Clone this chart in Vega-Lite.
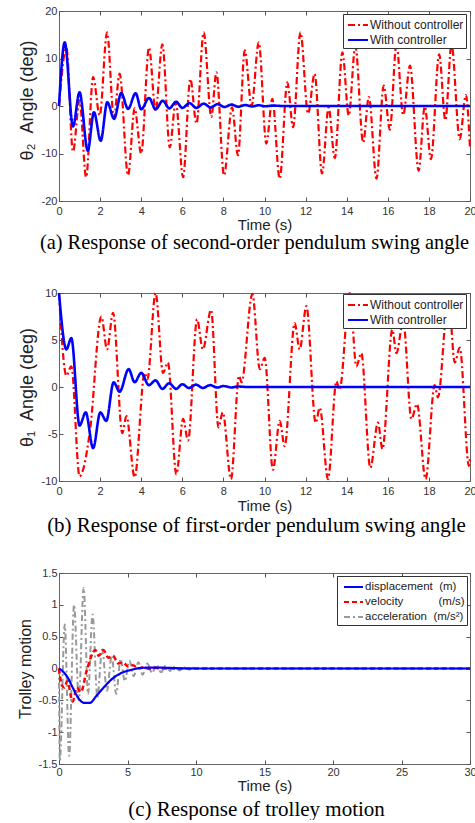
{
  "$schema": "https://vega.github.io/schema/vega-lite/v6.json",
  "background": "white",
  "padding": {"top": 4, "left": 16, "right": 0, "bottom": 0},
  "bounds": "flush",
  "spacing": 92,
  "resolve": {"scale": {"color": "independent", "strokeDash": "independent"}, "legend": {"color": "independent", "strokeDash": "independent"}},
  "config": {
    "view": {"stroke": "#666", "strokeWidth": 1},
    "axis": {"grid": false, "domain": false, "labelFont": "Liberation Sans", "titleFont": "Liberation Sans", "labelFontSize": 11, "labelColor": "#333", "titleColor": "#222", "titleFontWeight": "normal", "tickColor": "#555", "labelFlush": false, "labelOverlap": false},
    "legend": {"labelFont": "Liberation Sans", "labelColor": "#222"},
    "title": {"font": "Liberation Serif", "fontSize": 21, "fontWeight": "normal", "color": "#000"}
  },
  "vconcat": [
    {
      "width": 411, "height": 190,
      "title": {"text": "(a) Response of second-order pendulum swing angle", "orient": "bottom", "anchor": "middle", "frame": "group", "dx": -10, "offset": 1, "fontSize": 20.4},
      "data": {"values": [
        {"t":0,"v":0,"s":"Without controller"},{"t":0.36,"v":12.3,"s":"Without controller"},{"t":0.68,"v":-9.6,"s":"Without controller"},{"t":1.0,"v":1.2,"s":"Without controller"},{"t":1.32,"v":-15,"s":"Without controller"},{"t":1.66,"v":6.1,"s":"Without controller"},{"t":1.98,"v":-2,"s":"Without controller"},{"t":2.34,"v":15.5,"s":"Without controller"},{"t":2.67,"v":-2.5,"s":"Without controller"},{"t":2.95,"v":6.8,"s":"Without controller"},{"t":3.36,"v":-14.6,"s":"Without controller"},{"t":3.68,"v":-0.5,"s":"Without controller"},{"t":4.0,"v":-10,"s":"Without controller"},{"t":4.38,"v":12.3,"s":"Without controller"},{"t":4.7,"v":-1,"s":"Without controller"},{"t":5.03,"v":13,"s":"Without controller"},{"t":5.39,"v":-8.7,"s":"Without controller"},{"t":5.68,"v":0.8,"s":"Without controller"},{"t":6.04,"v":-15,"s":"Without controller"},{"t":6.39,"v":5.7,"s":"Without controller"},{"t":6.69,"v":-3.7,"s":"Without controller"},{"t":7.04,"v":15.5,"s":"Without controller"},{"t":7.41,"v":-2.3,"s":"Without controller"},{"t":7.66,"v":7.1,"s":"Without controller"},{"t":8.03,"v":-14.6,"s":"Without controller"},{"t":8.42,"v":-0.3,"s":"Without controller"},{"t":8.71,"v":-10.4,"s":"Without controller"},{"t":9.04,"v":11.7,"s":"Without controller"},{"t":9.37,"v":0,"s":"Without controller"},{"t":9.72,"v":13.4,"s":"Without controller"},{"t":10.09,"v":-7.9,"s":"Without controller"},{"t":10.38,"v":1.5,"s":"Without controller"},{"t":10.74,"v":-15.3,"s":"Without controller"},{"t":11.11,"v":5,"s":"Without controller"},{"t":11.39,"v":-4.5,"s":"Without controller"},{"t":11.75,"v":15.5,"s":"Without controller"},{"t":12.12,"v":-1.6,"s":"Without controller"},{"t":12.44,"v":6.8,"s":"Without controller"},{"t":12.8,"v":-14.2,"s":"Without controller"},{"t":13.12,"v":-0.3,"s":"Without controller"},{"t":13.42,"v":-11,"s":"Without controller"},{"t":13.79,"v":11.3,"s":"Without controller"},{"t":14.1,"v":-2,"s":"Without controller"},{"t":14.42,"v":12.6,"s":"Without controller"},{"t":14.8,"v":-7.7,"s":"Without controller"},{"t":15.08,"v":1.9,"s":"Without controller"},{"t":15.45,"v":-15.3,"s":"Without controller"},{"t":15.8,"v":4.3,"s":"Without controller"},{"t":16.1,"v":-5,"s":"Without controller"},{"t":16.42,"v":13,"s":"Without controller"},{"t":16.75,"v":-1.9,"s":"Without controller"},{"t":17.08,"v":8.5,"s":"Without controller"},{"t":17.5,"v":-13.6,"s":"Without controller"},{"t":17.8,"v":-0.1,"s":"Without controller"},{"t":18.1,"v":-11.2,"s":"Without controller"},{"t":18.5,"v":10.9,"s":"Without controller"},{"t":18.8,"v":-3,"s":"Without controller"},{"t":19.1,"v":13,"s":"Without controller"},{"t":19.5,"v":-7,"s":"Without controller"},{"t":19.8,"v":2.3,"s":"Without controller"},{"t":20,"v":-9,"s":"Without controller"},
        {"t":0,"v":0,"s":"With controller"},{"t":0.28,"v":13.4,"s":"With controller"},{"t":0.68,"v":-4.3,"s":"With controller"},{"t":1.0,"v":2.9,"s":"With controller"},{"t":1.4,"v":-9.4,"s":"With controller"},{"t":1.7,"v":-1.3,"s":"With controller"},{"t":2.03,"v":-7.3,"s":"With controller"},{"t":2.35,"v":0.8,"s":"With controller"},{"t":2.68,"v":-2.7,"s":"With controller"},{"t":3.03,"v":2.7,"s":"With controller"},{"t":3.36,"v":-0.6,"s":"With controller"},{"t":3.73,"v":2.7,"s":"With controller"},{"t":4.0,"v":-0.7,"s":"With controller"},{"t":4.38,"v":1.7,"s":"With controller"},{"t":4.7,"v":-0.7,"s":"With controller"},{"t":5.05,"v":1.1,"s":"With controller"},{"t":5.37,"v":-0.5,"s":"With controller"},{"t":5.7,"v":0.9,"s":"With controller"},{"t":6.0,"v":-0.4,"s":"With controller"},{"t":6.35,"v":0.6,"s":"With controller"},{"t":6.69,"v":-0.4,"s":"With controller"},{"t":7.04,"v":0.5,"s":"With controller"},{"t":7.38,"v":-0.3,"s":"With controller"},{"t":7.72,"v":0.4,"s":"With controller"},{"t":8.05,"v":-0.2,"s":"With controller"},{"t":8.4,"v":0.3,"s":"With controller"},{"t":8.72,"v":-0.15,"s":"With controller"},{"t":9.05,"v":0.2,"s":"With controller"},{"t":9.4,"v":-0.1,"s":"With controller"},{"t":9.72,"v":0.15,"s":"With controller"},{"t":10.05,"v":-0.05,"s":"With controller"},{"t":10.4,"v":0.08,"s":"With controller"},{"t":11,"v":0,"s":"With controller"},{"t":20,"v":0,"s":"With controller"}
      ]},
      "resolve": {"axis": {"x": "independent", "y": "independent"}},
      "layer": [
        {
          "transform": [{"filter": "datum.s == 'Without controller'"}],
          "mark": {"type": "line", "interpolate": "monotone", "strokeWidth": 2.2},
          "encoding": {
            "x": {"field": "t", "type": "quantitative", "scale": {"domain": [0, 20], "nice": false, "zero": false}, "axis": {"orient": "bottom", "values": [0,2,4,6,8,10,12,14,16,18,20], "title": "Time (s)", "titleFontSize": 15, "titlePadding": 1, "labelPadding": 8, "tickSize": -4}},
            "y": {"field": "v", "type": "quantitative", "scale": {"domain": [-20, 20], "nice": false, "zero": false}, "axis": {"orient": "left", "values": [-20,-10,0,10,20], "title": "θ₂\u00a0\u00a0Angle (deg)", "titleFontSize": 18, "titlePadding": 5, "titleY": 89, "labelPadding": 6, "tickSize": -4, "labelExpr": "datum.value < 0 ? '-' + format(-datum.value, '') : format(datum.value, '')"}},
            "color": {"field": "s", "type": "nominal", "scale": {"domain": ["Without controller", "With controller"], "range": ["#ff0000", "#0000ff"]}, "legend": {"orient": "none", "legendX": 284, "legendY": 3, "title": null, "padding": 2, "fillColor": "white", "strokeColor": "#333", "symbolType": "M-0.75,0H1.75", "symbolSize": 256, "symbolStrokeWidth": 2, "labelFontSize": 12, "labelOffset": 7, "rowPadding": -1}},
            "strokeDash": {"field": "s", "type": "nominal", "scale": {"domain": ["Without controller", "With controller"], "range": [[7,3,2,3],[1,0]]}, "legend": {"orient": "none", "legendX": 284, "legendY": 3, "title": null, "padding": 2, "fillColor": "white", "strokeColor": "#333", "symbolType": "M-0.75,0H1.75", "symbolSize": 256, "symbolStrokeWidth": 2, "labelFontSize": 12, "labelOffset": 7, "rowPadding": -1}}
          }
        },
        {
          "transform": [{"filter": "datum.s == 'With controller'"}],
          "mark": {"type": "line", "interpolate": "monotone", "strokeWidth": 2.6},
          "encoding": {
            "x": {"field": "t", "type": "quantitative", "axis": {"orient": "top", "values": [0,2,4,6,8,10,12,14,16,18,20], "labels": false, "title": null, "tickSize": -4}},
            "y": {"field": "v", "type": "quantitative", "axis": {"orient": "right", "values": [-20,-10,0,10,20], "labels": false, "title": null, "tickSize": -4}},
            "color": {"field": "s", "type": "nominal"},
            "strokeDash": {"field": "s", "type": "nominal"}
          }
        }
      ]
    },
    {
      "width": 411, "height": 188,
      "title": {"text": "(b) Response of first-order pendulum swing angle", "orient": "bottom", "anchor": "middle", "frame": "group", "dx": -8, "offset": 2},
      "data": {"values": [
        {"t":0,"v":10,"s":"Without controller"},{"t":0.36,"v":1.2,"s":"Without controller"},{"t":0.6,"v":2.2,"s":"Without controller"},{"t":1.0,"v":-9.5,"s":"Without controller"},{"t":1.5,"v":-4.8,"s":"Without controller"},{"t":2.06,"v":7.5,"s":"Without controller"},{"t":2.34,"v":4,"s":"Without controller"},{"t":2.63,"v":7.9,"s":"Without controller"},{"t":3.08,"v":-4.9,"s":"Without controller"},{"t":3.28,"v":-3.1,"s":"Without controller"},{"t":3.68,"v":-9.6,"s":"Without controller"},{"t":4.17,"v":1.5,"s":"Without controller"},{"t":4.3,"v":0.8,"s":"Without controller"},{"t":4.7,"v":10,"s":"Without controller"},{"t":5.06,"v":1.5,"s":"Without controller"},{"t":5.3,"v":2.6,"s":"Without controller"},{"t":5.71,"v":-9.3,"s":"Without controller"},{"t":6.04,"v":-3.4,"s":"Without controller"},{"t":6.28,"v":-5.7,"s":"Without controller"},{"t":6.72,"v":7.2,"s":"Without controller"},{"t":7.0,"v":4,"s":"Without controller"},{"t":7.4,"v":8.2,"s":"Without controller"},{"t":7.76,"v":-4.3,"s":"Without controller"},{"t":7.97,"v":-2.7,"s":"Without controller"},{"t":8.37,"v":-9.8,"s":"Without controller"},{"t":8.76,"v":1.2,"s":"Without controller"},{"t":8.88,"v":0.5,"s":"Without controller"},{"t":9.41,"v":9.9,"s":"Without controller"},{"t":9.77,"v":1.9,"s":"Without controller"},{"t":10.01,"v":3.1,"s":"Without controller"},{"t":10.41,"v":-8.8,"s":"Without controller"},{"t":10.74,"v":-3.6,"s":"Without controller"},{"t":10.98,"v":-6.3,"s":"Without controller"},{"t":11.47,"v":6.8,"s":"Without controller"},{"t":11.71,"v":4,"s":"Without controller"},{"t":12.04,"v":8.6,"s":"Without controller"},{"t":12.49,"v":-3.8,"s":"Without controller"},{"t":12.69,"v":-2.2,"s":"Without controller"},{"t":13.09,"v":-9.8,"s":"Without controller"},{"t":13.5,"v":0.6,"s":"Without controller"},{"t":13.65,"v":-0.3,"s":"Without controller"},{"t":14.15,"v":10,"s":"Without controller"},{"t":14.47,"v":2.2,"s":"Without controller"},{"t":14.71,"v":3.6,"s":"Without controller"},{"t":15.15,"v":-8.6,"s":"Without controller"},{"t":15.52,"v":-3.8,"s":"Without controller"},{"t":15.74,"v":-6.6,"s":"Without controller"},{"t":16.22,"v":6.1,"s":"Without controller"},{"t":16.42,"v":3.6,"s":"Without controller"},{"t":16.75,"v":7,"s":"Without controller"},{"t":17.15,"v":-3.4,"s":"Without controller"},{"t":17.42,"v":-1.8,"s":"Without controller"},{"t":17.84,"v":-9.8,"s":"Without controller"},{"t":18.28,"v":0.2,"s":"Without controller"},{"t":18.44,"v":-1.1,"s":"Without controller"},{"t":18.95,"v":9.6,"s":"Without controller"},{"t":19.26,"v":2.6,"s":"Without controller"},{"t":19.5,"v":4.2,"s":"Without controller"},{"t":19.95,"v":-8.4,"s":"Without controller"},{"t":20,"v":-7.5,"s":"Without controller"},
        {"t":0,"v":10,"s":"With controller"},{"t":0.36,"v":4,"s":"With controller"},{"t":0.6,"v":5.2,"s":"With controller"},{"t":1.0,"v":-4.1,"s":"With controller"},{"t":1.3,"v":-2.7,"s":"With controller"},{"t":1.66,"v":-6.5,"s":"With controller"},{"t":2.01,"v":-2.7,"s":"With controller"},{"t":2.3,"v":-3.6,"s":"With controller"},{"t":2.66,"v":0.5,"s":"With controller"},{"t":2.95,"v":-0.5,"s":"With controller"},{"t":3.39,"v":1.9,"s":"With controller"},{"t":3.68,"v":0.5,"s":"With controller"},{"t":4.0,"v":1.5,"s":"With controller"},{"t":4.37,"v":0.2,"s":"With controller"},{"t":4.7,"v":0.7,"s":"With controller"},{"t":5.03,"v":-0.2,"s":"With controller"},{"t":5.36,"v":0.4,"s":"With controller"},{"t":5.7,"v":-0.2,"s":"With controller"},{"t":6.0,"v":0.3,"s":"With controller"},{"t":6.32,"v":-0.1,"s":"With controller"},{"t":6.66,"v":0.25,"s":"With controller"},{"t":7.0,"v":-0.1,"s":"With controller"},{"t":7.35,"v":0.2,"s":"With controller"},{"t":7.7,"v":-0.05,"s":"With controller"},{"t":8.0,"v":0.1,"s":"With controller"},{"t":8.4,"v":-0.05,"s":"With controller"},{"t":8.7,"v":0.05,"s":"With controller"},{"t":9.2,"v":0,"s":"With controller"},{"t":20,"v":0,"s":"With controller"}
      ]},
      "resolve": {"axis": {"x": "independent", "y": "independent"}},
      "layer": [
        {
          "transform": [{"filter": "datum.s == 'Without controller'"}],
          "mark": {"type": "line", "interpolate": "monotone", "strokeWidth": 2.2},
          "encoding": {
            "x": {"field": "t", "type": "quantitative", "scale": {"domain": [0, 20], "nice": false, "zero": false}, "axis": {"orient": "bottom", "values": [0,2,4,6,8,10,12,14,16,18,20], "title": "Time (s)", "titleFontSize": 15, "titlePadding": 2, "labelPadding": 8, "tickSize": -4}},
            "y": {"field": "v", "type": "quantitative", "scale": {"domain": [-10, 10], "nice": false, "zero": false}, "axis": {"orient": "left", "values": [-10,-5,0,5,10], "title": "θ₁\u00a0\u00a0Angle (deg)", "titleFontSize": 18, "titlePadding": 5, "labelPadding": 6, "tickSize": -4, "labelExpr": "datum.value < 0 ? '-' + format(-datum.value, '') : format(datum.value, '')"}},
            "color": {"field": "s", "type": "nominal", "scale": {"domain": ["Without controller", "With controller"], "range": ["#ff0000", "#0000ff"]}, "legend": {"orient": "none", "legendX": 284, "legendY": 1, "title": null, "padding": 2, "fillColor": "white", "strokeColor": "#333", "symbolType": "M-0.75,0H1.75", "symbolSize": 256, "symbolStrokeWidth": 2, "labelFontSize": 12, "labelOffset": 7, "rowPadding": -1}},
            "strokeDash": {"field": "s", "type": "nominal", "scale": {"domain": ["Without controller", "With controller"], "range": [[7,3,2,3],[1,0]]}, "legend": {"orient": "none", "legendX": 284, "legendY": 1, "title": null, "padding": 2, "fillColor": "white", "strokeColor": "#333", "symbolType": "M-0.75,0H1.75", "symbolSize": 256, "symbolStrokeWidth": 2, "labelFontSize": 12, "labelOffset": 7, "rowPadding": -1}}
          }
        },
        {
          "transform": [{"filter": "datum.s == 'With controller'"}],
          "mark": {"type": "line", "interpolate": "monotone", "strokeWidth": 2.6},
          "encoding": {
            "x": {"field": "t", "type": "quantitative", "axis": {"orient": "top", "values": [0,2,4,6,8,10,12,14,16,18,20], "labels": false, "title": null, "tickSize": -4}},
            "y": {"field": "v", "type": "quantitative", "axis": {"orient": "right", "values": [-10,-5,0,5,10], "labels": false, "title": null, "tickSize": -4}},
            "color": {"field": "s", "type": "nominal"},
            "strokeDash": {"field": "s", "type": "nominal"}
          }
        }
      ]
    },
    {
      "width": 411, "height": 191,
      "title": {"text": "(c) Response of trolley motion", "orient": "bottom", "anchor": "middle", "frame": "group", "dx": -8, "offset": 5},
      "data": {"values": [
        {"t":0,"v":0,"s":"acceleration"},{"t":0.06,"v":-1.45,"s":"acceleration"},{"t":0.42,"v":0.69,"s":"acceleration"},{"t":0.74,"v":-1.37,"s":"acceleration"},{"t":1.1,"v":1.0,"s":"acceleration"},{"t":1.45,"v":-0.5,"s":"acceleration"},{"t":1.8,"v":1.27,"s":"acceleration"},{"t":2.12,"v":-0.4,"s":"acceleration"},{"t":2.45,"v":0.85,"s":"acceleration"},{"t":2.8,"v":-0.45,"s":"acceleration"},{"t":3.15,"v":0.3,"s":"acceleration"},{"t":3.5,"v":-0.35,"s":"acceleration"},{"t":3.85,"v":0.2,"s":"acceleration"},{"t":4.17,"v":-0.4,"s":"acceleration"},{"t":4.5,"v":0.15,"s":"acceleration"},{"t":4.8,"v":-0.2,"s":"acceleration"},{"t":5.15,"v":0.12,"s":"acceleration"},{"t":5.45,"v":-0.12,"s":"acceleration"},{"t":5.8,"v":0.1,"s":"acceleration"},{"t":6.1,"v":-0.1,"s":"acceleration"},{"t":6.45,"v":0.08,"s":"acceleration"},{"t":6.8,"v":-0.07,"s":"acceleration"},{"t":7.1,"v":0.06,"s":"acceleration"},{"t":7.45,"v":-0.06,"s":"acceleration"},{"t":7.8,"v":0.05,"s":"acceleration"},{"t":8.1,"v":-0.04,"s":"acceleration"},{"t":8.45,"v":0.03,"s":"acceleration"},{"t":8.8,"v":-0.03,"s":"acceleration"},{"t":9.1,"v":0.02,"s":"acceleration"},{"t":9.45,"v":-0.02,"s":"acceleration"},{"t":9.8,"v":0.01,"s":"acceleration"},{"t":10.5,"v":0,"s":"acceleration"},{"t":30,"v":0,"s":"acceleration"},
        {"t":0,"v":0,"s":"velocity"},{"t":0.22,"v":-0.27,"s":"velocity"},{"t":0.4,"v":-0.3,"s":"velocity"},{"t":0.6,"v":-0.2,"s":"velocity"},{"t":1.0,"v":-0.52,"s":"velocity"},{"t":1.3,"v":-0.3,"s":"velocity"},{"t":1.6,"v":-0.37,"s":"velocity"},{"t":2.0,"v":-0.05,"s":"velocity"},{"t":2.65,"v":0.29,"s":"velocity"},{"t":2.9,"v":0.2,"s":"velocity"},{"t":3.25,"v":0.29,"s":"velocity"},{"t":3.6,"v":0.17,"s":"velocity"},{"t":3.95,"v":0.2,"s":"velocity"},{"t":4.3,"v":0.08,"s":"velocity"},{"t":4.7,"v":0.09,"s":"velocity"},{"t":5.05,"v":0.03,"s":"velocity"},{"t":5.4,"v":0.05,"s":"velocity"},{"t":5.8,"v":0,"s":"velocity"},{"t":6.2,"v":0.02,"s":"velocity"},{"t":6.6,"v":-0.01,"s":"velocity"},{"t":7.0,"v":0.01,"s":"velocity"},{"t":7.5,"v":0,"s":"velocity"},{"t":30,"v":0,"s":"velocity"},
        {"t":0,"v":0,"s":"displacement"},{"t":0.3,"v":-0.05,"s":"displacement"},{"t":0.66,"v":-0.15,"s":"displacement"},{"t":1.0,"v":-0.3,"s":"displacement"},{"t":1.5,"v":-0.49,"s":"displacement"},{"t":1.85,"v":-0.54,"s":"displacement"},{"t":2.25,"v":-0.54,"s":"displacement"},{"t":2.73,"v":-0.43,"s":"displacement"},{"t":3.34,"v":-0.28,"s":"displacement"},{"t":3.95,"v":-0.15,"s":"displacement"},{"t":4.56,"v":-0.07,"s":"displacement"},{"t":5.3,"v":-0.02,"s":"displacement"},{"t":6.0,"v":0.01,"s":"displacement"},{"t":7.0,"v":0.015,"s":"displacement"},{"t":8.0,"v":0.01,"s":"displacement"},{"t":9.5,"v":0,"s":"displacement"},{"t":30,"v":0,"s":"displacement"}
      ]},
      "resolve": {"axis": {"x": "independent", "y": "independent"}},
      "layer": [
        {
          "transform": [{"filter": "datum.s == 'acceleration'"}],
          "mark": {"type": "line", "interpolate": "monotone", "strokeWidth": 2},
          "encoding": {
            "x": {"field": "t", "type": "quantitative", "scale": {"domain": [0, 30], "nice": false, "zero": false}, "axis": {"orient": "bottom", "values": [0,5,10,15,20,25,30], "title": "Time (s)", "titleFontSize": 15, "titlePadding": 1.5, "labelPadding": 6, "tickSize": -4}},
            "y": {"field": "v", "type": "quantitative", "scale": {"domain": [-1.5, 1.5], "nice": false, "zero": false}, "axis": {"orient": "left", "values": [-1.5,-1,-0.5,0,0.5,1,1.5], "title": "Trolley motion", "titleFontSize": 16, "titlePadding": 5, "labelPadding": 6, "tickSize": -4, "labelExpr": "datum.value < 0 ? '-' + format(-datum.value, '') : format(datum.value, '')"}},
            "color": {"field": "s", "type": "nominal", "scale": {"domain": ["displacement", "velocity", "acceleration"], "range": ["#0000ff", "#ff0000", "#999999"]}, "legend": {"orient": "none", "legendX": 278, "legendY": 3, "title": null, "padding": 2, "fillColor": "white", "strokeColor": "#333", "symbolType": "M-0.5,0H1.875", "symbolSize": 256, "symbolStrokeWidth": 2, "labelFontSize": 11.5, "labelOffset": 8, "rowPadding": -1, "labelExpr": "datum.label == 'displacement' ? 'displacement\u00a0\u00a0(m)' : datum.label == 'velocity' ? 'velocity\u00a0\u00a0\u00a0\u00a0\u00a0\u00a0\u00a0\u00a0\u00a0\u00a0\u00a0(m/s)' : 'acceleration\u00a0\u00a0(m/s²)'"}},
            "strokeDash": {"field": "s", "type": "nominal", "scale": {"domain": ["displacement", "velocity", "acceleration"], "range": [[1,0],[5,3],[6,3,2,3]]}, "legend": {"orient": "none", "legendX": 278, "legendY": 3, "title": null, "padding": 2, "fillColor": "white", "strokeColor": "#333", "symbolType": "M-0.5,0H1.875", "symbolSize": 256, "symbolStrokeWidth": 2, "labelFontSize": 11.5, "labelOffset": 8, "rowPadding": -1, "labelExpr": "datum.label == 'displacement' ? 'displacement\u00a0\u00a0(m)' : datum.label == 'velocity' ? 'velocity\u00a0\u00a0\u00a0\u00a0\u00a0\u00a0\u00a0\u00a0\u00a0\u00a0\u00a0(m/s)' : 'acceleration\u00a0\u00a0(m/s²)'"}}
          }
        },
        {
          "transform": [{"filter": "datum.s == 'velocity'"}],
          "mark": {"type": "line", "interpolate": "monotone", "strokeWidth": 2.5},
          "encoding": {
            "x": {"field": "t", "type": "quantitative", "axis": {"orient": "top", "values": [0,5,10,15,20,25,30], "labels": false, "title": null, "tickSize": -4}},
            "y": {"field": "v", "type": "quantitative", "axis": {"orient": "right", "values": [-1.5,-1,-0.5,0,0.5,1,1.5], "labels": false, "title": null, "tickSize": -4}},
            "color": {"field": "s", "type": "nominal"},
            "strokeDash": {"field": "s", "type": "nominal"}
          }
        },
        {
          "transform": [{"filter": "datum.s == 'displacement'"}],
          "mark": {"type": "line", "interpolate": "monotone", "strokeWidth": 2.2},
          "encoding": {
            "x": {"field": "t", "type": "quantitative", "axis": null},
            "y": {"field": "v", "type": "quantitative", "axis": null},
            "color": {"field": "s", "type": "nominal"},
            "strokeDash": {"field": "s", "type": "nominal"}
          }
        }
      ]
    }
  ]
}
